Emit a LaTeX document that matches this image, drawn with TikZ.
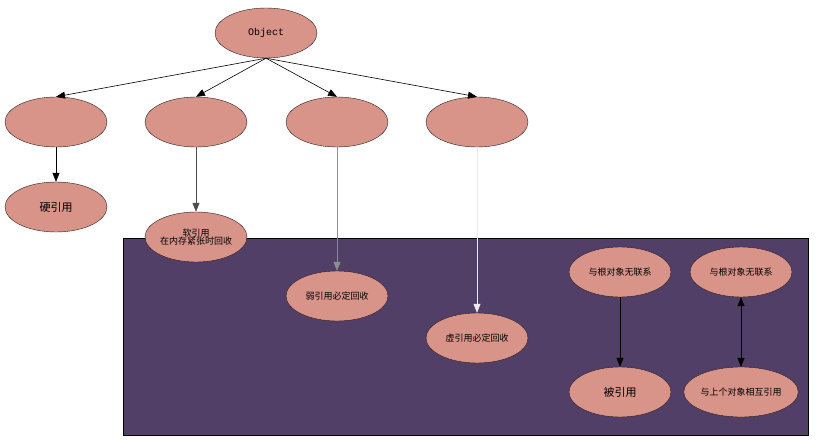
\documentclass[tikz,border=0pt]{standalone}
\usepackage{fontspec}
\newfontfamily\cjk{Noto Sans CJK SC}
\setmonofont{Liberation Mono}
\usetikzlibrary{shapes.geometric,arrows.meta}
\definecolor{ell}{HTML}{D9948A}
\definecolor{bg}{HTML}{523F68}
\tikzset{
  ov/.style={ellipse,draw=black!80!ell,fill=ell,minimum width=102pt,minimum height=50pt,inner sep=0pt,font=\cjk\fontsize{9}{10}\selectfont,align=center},
  ar/.style={-{Triangle[length=9pt,width=7pt]},line width=0.6pt}
}
\begin{document}
\begin{tikzpicture}[x=1pt,y=-1pt]
\useasboundingbox (0,0) rectangle (816,441);
\draw[fill=bg,line width=0.8pt] (123,238) rectangle (808,435);
\node[ov,font=\ttfamily\fontsize{10}{12}\selectfont] (o) at (266,33) {Object};
\node[ov] (a) at (56,122) {};
\node[ov] (b) at (196,122) {};
\node[ov] (c) at (337,122) {};
\node[ov] (d) at (477,122) {};
\node[ov,font=\cjk\fontsize{11}{12}\selectfont] (a2) at (56,207) {硬引用};
\node[ov] (b2) at (196,237) {软引用\\[-2pt]在内存紧张时回收};
\node[ov] (c2) at (337,296) {弱引用必定回收};
\node[ov] (d2) at (477,338) {虚引用必定回收};
\node[ov] (e1) at (620,272) {与根对象无联系};
\node[ov,font=\cjk\fontsize{11}{12}\selectfont] (e2) at (620,392) {被引用};
\node[ov] (f1) at (741,272) {与根对象无联系};
\node[ov] (f2) at (741,392) {与上个对象相互引用};
\foreach \t in {a,b,c,d} \draw[ar] (o.south) -- (\t.north);
\draw[ar] (a) -- (a2);
\draw[ar,draw=black!70,fill=black!70] (b) -- (b2);
\draw[ar,draw=black!45,fill=black!45] (c) -- (c2);
\draw[ar,draw=black!8,fill=black!8] (d) -- (d2);
\draw[ar] (e1) -- (e2);
\draw[ar,{Triangle[length=9pt,width=7pt]}-{Triangle[length=9pt,width=7pt]}] (f1) -- (f2);
\end{tikzpicture}
\end{document}
